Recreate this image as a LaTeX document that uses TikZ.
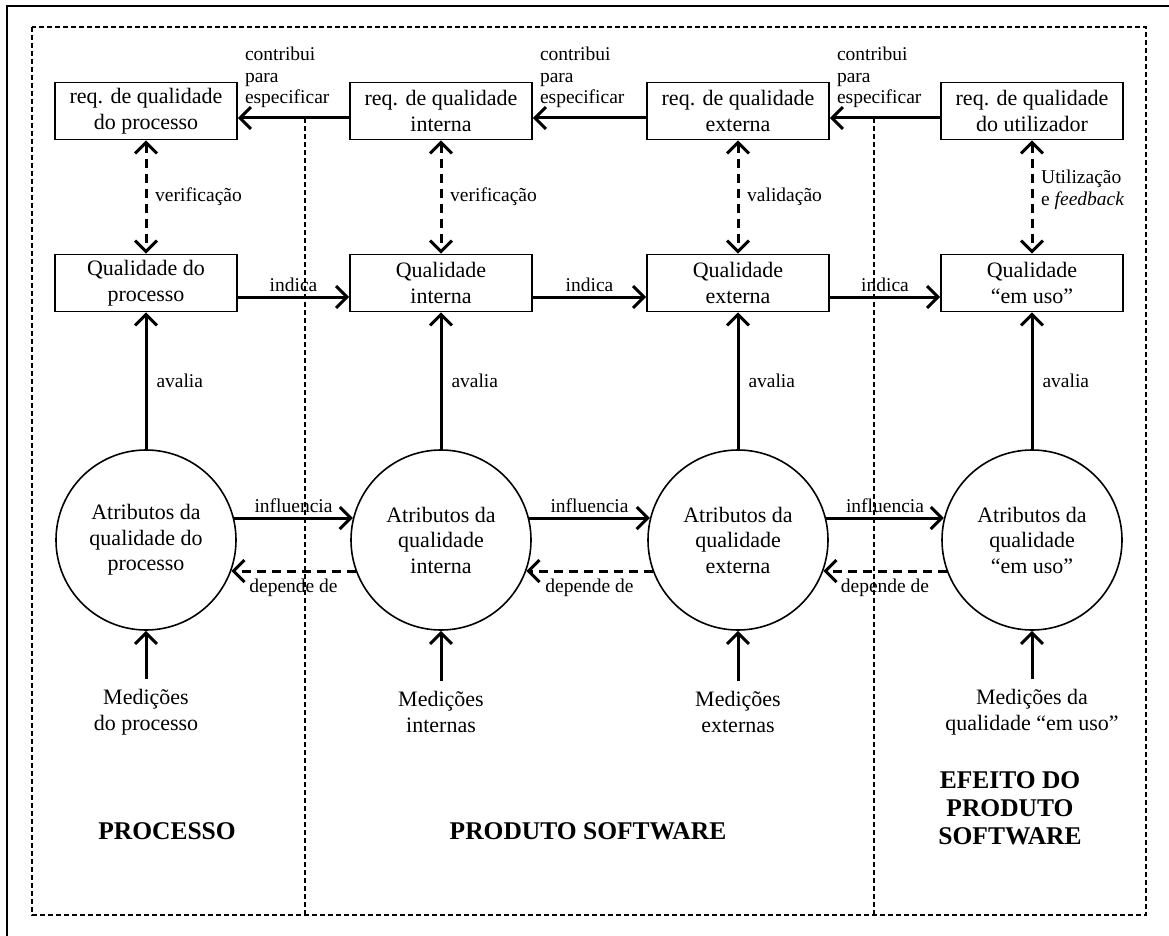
\documentclass[tikz,border=0pt]{standalone}
\usepackage{fontspec}
\setmainfont{Liberation Serif}
\usetikzlibrary{arrows.meta}

\begin{document}
\begin{tikzpicture}[x=1pt,y=-1pt,
  every node/.style={font=\fontsize{22}{25.5}\selectfont},
  qbox/.style={draw, line width=1.6pt, minimum width=182pt, minimum height=57pt,
               align=center, inner sep=0pt},
  attr/.style={draw, circle, line width=1.6pt, minimum size=180pt, align=center, inner sep=0pt},
  meas/.style={align=center, inner sep=10pt},
  lbl/.style={font=\fontsize{19.5}{21.5}\selectfont, inner sep=1pt},
  sect/.style={font=\fontsize{25.5}{28}\selectfont\bfseries, align=center},
  conn/.style={line width=3pt, -{Straight Barb[length=11pt,width=22pt]}},
  dconn/.style={line width=3pt, dash pattern=on 9pt off 6pt,
                -{Straight Barb[length=11pt,width=22pt]}},
  bothconn/.style={line width=3pt, dash pattern=on 9pt off 6pt,
                {Straight Barb[length=11pt,width=22pt]}-{Straight Barb[length=11pt,width=22pt]}},
  frame/.style={line width=1.3pt, dash pattern=on 5pt off 3pt},
]
\useasboundingbox (0,0) rectangle (1169,936);

% outer page frame (open to the right and bottom)
\draw[line width=1.4pt] (7,936) -- (7,6) -- (1169,6);

% dashed region frame and separators
\draw[frame] (32,27) rectangle (1146,915);
\draw[frame] (305,118) -- (305,915);
\draw[frame] (874,118) -- (874,915);

% requirement boxes
\node[qbox] (r1) at (146,111) {req. de qualidade\\do processo};
\node[qbox] (r2) at (441,111) {req. de qualidade\\interna};
\node[qbox] (r3) at (738,111) {req. de qualidade\\externa};
\node[qbox] (r4) at (1032,111) {req. de qualidade\\do utilizador};

% quality boxes
\node[qbox] (q1) at (146,283) {Qualidade do\\processo};
\node[qbox] (q2) at (441,283) {Qualidade\\interna};
\node[qbox] (q3) at (738,283) {Qualidade\\externa};
\node[qbox] (q4) at (1032,283) {Qualidade\\“em uso”};

% attribute circles
\node[attr] (a1) at (146,540) {Atributos da\\qualidade do\\processo};
\node[attr] (a2) at (441,540) {Atributos da\\qualidade\\interna};
\node[attr] (a3) at (738,540) {Atributos da\\qualidade\\externa};
\node[attr] (a4) at (1032,540) {Atributos da\\qualidade\\“em uso”};

% measurements
\node[meas] (m1) at (146,712) {Medições\\do processo};
\node[meas] (m2) at (441,712) {Medições\\internas};
\node[meas] (m3) at (738,712) {Medições\\externas};
\node[meas] (m4) at (1032,712) {Medições da\\qualidade “em uso”};

% section titles
\node[sect] (s1) at (167,831) {PROCESSO};
\node[sect] (s2) at (588,831) {PRODUTO SOFTWARE};
\node[sect] (s3) at (1010,808) {EFEITO DO\\PRODUTO\\SOFTWARE};

% "contribui para especificar"
\foreach \a/\b in {r2/r1, r3/r2, r4/r3}{
  \draw[conn] ([yshift=-7pt]\a.west) -- ([yshift=-7pt]\b.east);
  \node[lbl, align=left, anchor=south west] at ([xshift=6pt,yshift=2pt]\b.east)
    {contribui\\para\\especificar};
}

% verification / validation
\foreach \i in {1,...,4}{
  \draw[bothconn] (r\i.south) -- (q\i.north);
}
\node[lbl, anchor=west] at ([xshift=8pt]146,197) {verificação};
\node[lbl, anchor=west] at ([xshift=8pt]441,197) {verificação};
\node[lbl, anchor=west] at ([xshift=8pt]738,197) {validação};
\node[lbl, anchor=west, align=left] at ([xshift=8pt]1032,190) {Utilização\\e \textit{feedback}};

% indica
\foreach \a/\b in {q1/q2, q2/q3, q3/q4}{
  \draw[conn] ([yshift=-14pt]\a.east) -- node[lbl, above=3pt] {indica} ([yshift=-14pt]\b.west);
}

% avalia
\foreach \i in {1,...,4}{
  \draw[conn] (a\i.north) -- node[lbl, right=8pt] {avalia} (q\i.south);
  \draw[conn] (m\i.north) -- (a\i.south);
}

% influencia / depende de
\foreach \a/\b in {a1/a2, a2/a3, a3/a4}{
  \draw[conn] (\a.14) -- node[lbl, above=3pt] {influencia} (\b.166);
  \draw[dconn] (\b.200) -- node[lbl, below=5pt] {depende de} (\a.340);
}
\end{tikzpicture}
\end{document}
